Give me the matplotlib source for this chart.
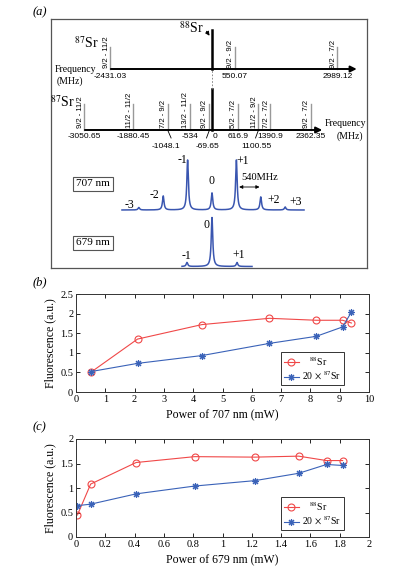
import numpy as np
import matplotlib.pyplot as plt
from matplotlib.ticker import FuncFormatter

plt.rcParams['font.family'] = ['Liberation Serif', 'DejaVu Serif']
plt.rcParams['mathtext.fontset'] = 'stix'

# ---- panel (a) data: transition frequencies (MHz) ----
row1_freq = [-2431.03, 550.07, 2989.12]
row1_lbl = ['9/2 - 11/2', '9/2 - 9/2', '9/2 - 7/2']
row2_freq = [-3050.65, -1880.45, -1048.1, -534, -69.65, 616.9, 1100.55, 1390.9, 2362.35]
row2_lbl = ['9/2 - 11/2', '11/2 - 11/2', '7/2 - 9/2', '13/2 - 11/2', '9/2 - 9/2',
            '5/2 - 7/2', '11/2 - 9/2', '7/2 - 7/2', '9/2 - 7/2']
row2_top = ['-3050.65', '-1880.45', None, '-534', None, '616.9', None, '1390.9', '2362.35']
row2_low = [None, None, '-1048.1', None, '-69.65', None, '1100.55', None, None]

# sideband spectra: position (MHz), peak height
sb707_pos = [-1746, -1164, -582, 0, 582, 1164, 1746]
sb707_h = [2.5, 14, 50, 17, 50, 13, 3]
sb707_lbl = ['-3', '-2', '-1', '0', '+1', '+2', '+3']
sb679_pos = [-597, 0, 597]
sb679_h = [4, 49, 4]
sb679_lbl = ['-1', '0', '+1']

# ---- panel (b) / (c) data ----
p707 = [0.5, 2.1, 4.3, 6.6, 8.2, 9.1, 9.4]
f88_707 = [0.5, 1.35, 1.72, 1.88, 1.83, 1.83, 1.76]
f87_707 = [0.52, 0.73, 0.93, 1.24, 1.42, 1.66, 2.04]
p679 = [0.01, 0.1, 0.41, 0.81, 1.22, 1.52, 1.71, 1.82]
f88_679 = [0.45, 1.08, 1.52, 1.64, 1.63, 1.65, 1.56, 1.56]
f87_679 = [0.64, 0.67, 0.88, 1.04, 1.15, 1.30, 1.48, 1.46]

W, H = 399, 574
fig = plt.figure(figsize=(W / 100, H / 100), dpi=100)

# panel (a): x in MHz, y arbitrary (0 at box bottom)
ax = fig.add_axes([51 / W, 1 - 268 / H, 316 / W, 249 / H])
ax.set_xlim(-3842, 3699)
ax.set_ylim(0, 249)
ax.set_xticks([])
ax.set_yticks([])
for s in ax.spines.values():
    s.set_color('#555555')
    s.set_linewidth(0.9)

sans = ['Liberation Sans', 'DejaVu Sans']
px = 1 / 0.0419  # MHz per pixel

# row 1
y1 = 199
ax.annotate('', xy=(3520, y1), xytext=(-2480, y1),
            arrowprops=dict(arrowstyle='-|>', color='black', lw=1.4, mutation_scale=9))
ax.plot([0, 0], [y1, 238], color='black', lw=1.8)
for f, l in zip(row1_freq, row1_lbl):
    ax.plot([f, f], [y1, 221], color='#999999', lw=1)
    ax.text(f - 0.6 * px, y1 + 1, l, rotation=90, ha='right', va='bottom',
            fontsize=5.5, family=sans)
    ax.text(f, y1 - 4, '%.2f' % f, ha='center', va='top', fontsize=6, family=sans)
ax.text(-3007, 225, r'$^{87}$Sr', ha='center', va='center', fontsize=10)
ax.text(-500, 240, r'$^{88}$Sr', ha='center', va='center', fontsize=10)
ax.annotate('', xy=(-20, 230), xytext=(-170, 239),
            arrowprops=dict(arrowstyle='-|>', color='black', lw=0.7, mutation_scale=6))
ax.text(-3747, y1, 'Frequency', ha='left', va='center', fontsize=7)
ax.text(-3700, 187, '(MHz)', ha='left', va='center', fontsize=7)

# row 2
y2 = 138
ax.annotate('', xy=(2697, y2), xytext=(-3100, y2),
            arrowprops=dict(arrowstyle='-|>', color='black', lw=1.4, mutation_scale=9))
ax.plot([0, 0], [y2, 179], color='black', lw=1.8)
ax.plot([0, 0], [179, y1], color='#777777', lw=0.6, ls=(0, (2, 2)))
for f, l, t, lo in zip(row2_freq, row2_lbl, row2_top, row2_low):
    ax.plot([f, f], [y2, 164], color='#999999', lw=1)
    ax.text(f - 0.6 * px, y2 + 2, l, rotation=90, ha='right', va='bottom',
            fontsize=5.5, family=sans)
    if t:
        ax.text(f, y2 - 3, t, ha='center', va='top', fontsize=6, family=sans)
    if lo:
        ax.text(f - 40, y2 - 13, lo, ha='center', va='top', fontsize=6, family=sans)
ax.text(25, y2 - 3, '0', ha='left', va='top', fontsize=6, family=sans)
for f, dx in [(-1048.1, 72), (-69.65, -62), (1100.55, -62)]:
    ax.plot([f, f + dx], [y2 - 1, y2 - 8], color='black', lw=0.6)
ax.text(-3560, 166, r'$^{87}$Sr', ha='center', va='center', fontsize=10)
ax.text(2697, 145, 'Frequency', ha='left', va='center', fontsize=7)
ax.text(3294, 132, '(MHz)', ha='center', va='center', fontsize=7)

# spectra
blue_a = '#3a56b0'
g = 22.0
x707 = np.linspace(-2148, 2196, 4000)
s707 = 58 + sum(h * g ** 2 / ((x707 - p) ** 2 + g ** 2) for p, h in zip(sb707_pos, sb707_h))
ax.plot(x707, s707, color=blue_a, lw=1.1)
x679 = np.linspace(-716, 955, 2000)
s679 = 1.5 + sum(h * g ** 2 / ((x679 - p) ** 2 + g ** 2) for p, h in zip(sb679_pos, sb679_h))
ax.plot(x679, s679, color=blue_a, lw=1.1)

lbl707_xy = [(-1980, 63), (-1384, 73), (-716, 108), (0, 87), (740, 107), (1480, 68), (2005, 66)]
for (x, y), l in zip(lbl707_xy, sb707_lbl):
    ax.text(x, y, l, ha='center', va='center', fontsize=8.5)
lbl679_xy = [(-620, 12), (-120, 43), (645, 13)]
for (x, y), l in zip(lbl679_xy, sb679_lbl):
    ax.text(x, y, l, ha='center', va='center', fontsize=8.5)
ax.text(1140, 90, '540MHz', ha='center', va='center', fontsize=7.5)
ax.annotate('', xy=(582, 81), xytext=(1200, 81),
            arrowprops=dict(arrowstyle='<|-|>', color='black', lw=0.6, mutation_scale=5))
box = dict(boxstyle='square,pad=0.25', fc='white', ec='#555555', lw=0.8)
ax.text(-2840, 84, '707 nm', ha='center', va='center', fontsize=8, bbox=box)
ax.text(-2840, 25, '679 nm', ha='center', va='center', fontsize=8, bbox=box)

fig.text(33 / W, 1 - 12 / H, '(a)', style='italic', fontsize=9, ha='left', va='center')

# panels (b) and (c)
red = '#f04848'
blue = '#3a62b8'
fmt = FuncFormatter(lambda v, p: '%g' % v)


def power_panel(top_px, x, y88, y87, xmax, ymax, xstep, xlabel, tag):
    a = fig.add_axes([76 / W, 1 - (top_px + 98) / H, 293 / W, 98 / H])
    a.plot(x, y88, color=red, lw=0.8, marker='o', ms=5, mfc='none', mew=0.8,
           label=r'   $^{88}$Sr')
    a.plot(x, y87, color=blue, lw=0.8, marker=(8, 2, 0), ms=5, mew=0.8,
           label=r'20 $\times$ $^{87}$Sr')
    a.set_xlim(0, xmax)
    a.set_ylim(0, ymax)
    a.set_xticks(np.arange(0, xmax + 1e-9, xstep))
    a.set_yticks(np.arange(0, ymax + 1e-9, 0.5))
    a.xaxis.set_major_formatter(fmt)
    a.yaxis.set_major_formatter(fmt)
    a.tick_params(direction='in', top=True, right=True, labelsize=7.5, length=3,
                  width=0.6, pad=2)
    for s in a.spines.values():
        s.set_linewidth(0.7)
        s.set_color('#333333')
    a.set_xlabel(xlabel, fontsize=8.5, labelpad=4)
    a.set_ylabel('Fluorescence (a.u.)', fontsize=8.5, labelpad=3)
    leg = a.legend(loc='lower right', bbox_to_anchor=(0.915, 0.07), fontsize=7,
                   fancybox=False, edgecolor='#333333', framealpha=1,
                   borderaxespad=0, handlelength=1.6, handletextpad=0.3,
                   borderpad=0.3, labelspacing=0.2)
    leg.get_frame().set_linewidth(0.7)
    fig.text(33 / W, 1 - (top_px - 12) / H, tag, style='italic', fontsize=9,
             ha='left', va='center')
    return a


power_panel(294, p707, f88_707, f87_707, 10, 2.5, 1, 'Power of 707 nm (mW)', '(b)')
power_panel(439, p679, f88_679, f87_679, 2, 2, 0.2, 'Power of 679 nm (mW)', '(c)')

fig.savefig('out.png', dpi=100)
